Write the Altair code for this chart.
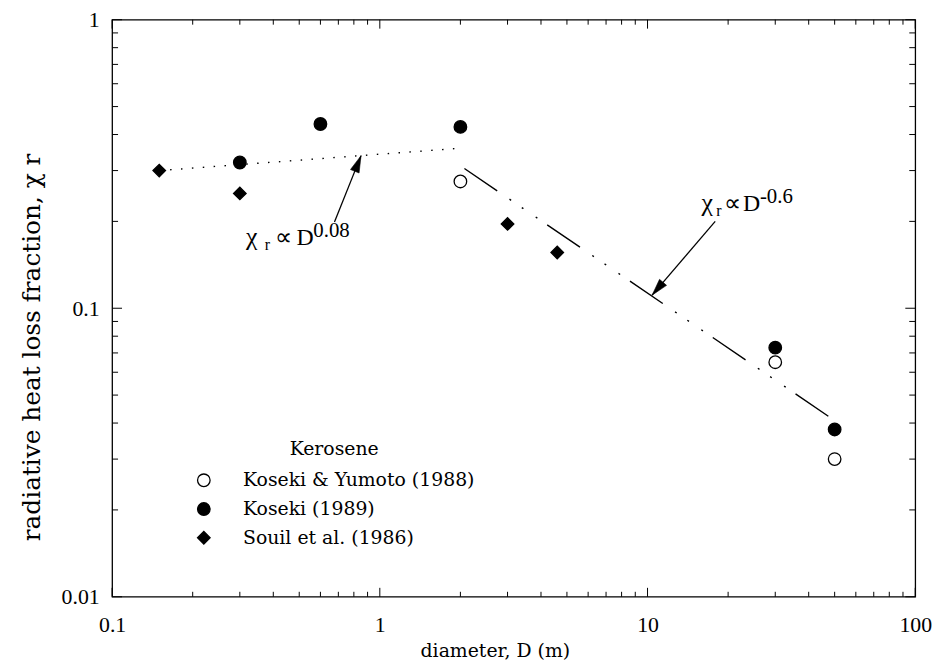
import math
import altair as alt
import pandas as pd

# ---------------- data ----------------
series_names = ["Koseki & Yumoto (1988)", "Koseki (1989)", "Souil et al. (1986)"]

ky_D = [2, 30, 50]
ky_chi = [0.275, 0.065, 0.030]

k89_D = [0.3, 0.6, 2, 30, 50]
k89_chi = [0.32, 0.435, 0.425, 0.073, 0.038]

souil_D = [0.15, 0.3, 3, 4.6]
souil_chi = [0.30, 0.25, 0.196, 0.156]

# correlation lines
fit_small_D = [0.15, 1.95]
fit_small_chi = [0.30, 0.358]
fit_large_D = [2.07, 47.8]
fit_large_chi = [0.305, 0.042]

# annotation arrows (tail -> tip) in data units
arrow_tail_D = [0.677, 17.9]
arrow_tail_chi = [0.199, 0.20]
arrow_tip_D = [0.851, 10.4]
arrow_tip_chi = [0.338, 0.111]

# annotation label anchors (left end of the chi glyph, baseline)
label_D = [0.316, 15.9]
label_chi = [0.166, 0.218]
label_exponent = ["0.08", "-0.6"]

x_ticks = [0.1, 1, 10, 100]
y_ticks = [0.01, 0.1, 1]
x_minor = [m * 10 ** e for e in (-1, 0, 1) for m in range(2, 10)]
y_minor = [m * 10 ** e for e in (-2, -1) for m in range(2, 10)]

# ---------------- layout ----------------
W, H = 810, 582
PX_PER_DEC_X = W / 3.0
PX_PER_DEC_Y = H / 2.0
SERIF = "Liberation Serif"
WIDE_SERIF = "DejaVu Serif"

xscale = alt.Scale(type="log", domain=[0.1, 100], nice=False)
yscale = alt.Scale(type="log", domain=[0.01, 1], nice=False)

xaxis = alt.Axis(values=x_ticks, format="~g", ticks=False, domain=False, grid=False,
                 labelFont=SERIF, labelFontSize=22, labelColor="black", labelPadding=18,
                 labelFlush=False, labelOverlap=False, labelBound=False,
                 title="diameter, D (m)", titleFont=WIDE_SERIF, titleFontSize=19,
                 titleFontWeight="normal", titleColor="black", titleX=386, titleY=45)
yaxis = alt.Axis(values=y_ticks, format="~g", ticks=False, domain=False, grid=False,
                 labelFont=SERIF, labelFontSize=22, labelColor="black", labelPadding=13,
                 labelFlush=False, labelOverlap=False, labelBound=False,
                 title="radiative heat loss fraction, χ r", titleFont=WIDE_SERIF,
                 titleFontSize=25, titleFontWeight="normal", titleColor="black",
                 titleAngle=270, titleX=-73, titleY=330, titleBaseline="alphabetic",
                 titleAlign="center", titleLimit=0)

X = alt.X("D:Q", scale=xscale, axis=xaxis)
Y = alt.Y("chi:Q", scale=yscale, axis=yaxis)

# ---------------- points ----------------
pts = pd.DataFrame({
    "D": ky_D + k89_D + souil_D,
    "chi": ky_chi + k89_chi + souil_chi,
    "source": [series_names[0]] * len(ky_D) + [series_names[1]] * len(k89_D)
              + [series_names[2]] * len(souil_D),
})

legend = alt.Legend(title="Kerosene", orient="none", legendX=83, legendY=424,
                    titleAnchor="middle", titleFont=WIDE_SERIF, titleFontSize=19,
                    titleFontWeight="normal", titleColor="black", titlePadding=12,
                    titleLimit=0, labelLimit=0,
                    labelFont=WIDE_SERIF, labelFontSize=19, labelColor="black",
                    labelOffset=30, rowPadding=9, symbolSize=160,
                    symbolStrokeColor="black", symbolStrokeWidth=1.3)

points = alt.Chart(pts).mark_point(filled=True, strokeWidth=1.3,
                                   size=160, opacity=1).encode(
    x=X, y=Y,
    shape=alt.Shape("source:N", scale=alt.Scale(domain=series_names,
                                                range=["circle", "circle", "diamond"]),
                    legend=legend),
    fill=alt.Fill("source:N", scale=alt.Scale(domain=series_names,
                                              range=["white", "black", "black"]),
                  legend=legend),
    stroke=alt.Stroke("source:N", scale=alt.Scale(domain=series_names,
                                                  range=["black", "black", "black"]),
                      legend=legend),
)

# ---------------- correlation lines ----------------
fit1 = alt.Chart(pd.DataFrame({"D": fit_small_D, "chi": fit_small_chi})).mark_line(
    color="black", strokeWidth=1.4, strokeDash=[1.5, 9.5]).encode(x=X, y=Y)
fit2 = alt.Chart(pd.DataFrame({"D": fit_large_D, "chi": fit_large_chi})).mark_line(
    color="black", strokeWidth=1.4, strokeDash=[40, 15, 2, 13, 2, 15, 2, 12]).encode(x=X, y=Y)

# ---------------- arrows ----------------
HEAD = 17.0
head_D, head_chi, head_angle = [], [], []
for tD, tC, pD, pC in zip(arrow_tail_D, arrow_tail_chi, arrow_tip_D, arrow_tip_chi):
    dx = PX_PER_DEC_X * math.log10(pD / tD)
    dy = PX_PER_DEC_Y * math.log10(pC / tC)
    L = math.hypot(dx, dy)
    f = (HEAD / 2) / L
    head_D.append(pD * (tD / pD) ** f)
    head_chi.append(pC * (tC / pC) ** f)
    head_angle.append(math.degrees(math.atan2(dx, dy)) % 360)

arrow_df = pd.DataFrame({"D": arrow_tail_D, "chi": arrow_tail_chi,
                         "D2": arrow_tip_D, "chi2": arrow_tip_chi})
shafts = alt.Chart(arrow_df).mark_rule(color="black", strokeWidth=1.3).encode(
    x=X, y=Y, x2="D2:Q", y2="chi2:Q")
heads = alt.Chart(pd.DataFrame({"D": head_D, "chi": head_chi, "ang": head_angle})).mark_point(
    shape="M0,-1L0.55,1L-0.55,1Z", filled=True, fill="black", stroke="black",
    strokeWidth=0.5, size=HEAD * HEAD, opacity=1).encode(
    x=X, y=Y, angle=alt.Angle("ang:Q", scale=None))

# ---------------- annotation labels ----------------
def label_layers(i, r_dx, prop_dx, d_dx, exp_dx):
    df = pd.DataFrame({"D": [label_D[i]], "chi": [label_chi[i]]})
    base = alt.Chart(df)
    common = dict(align="left", baseline="alphabetic", color="black", font=SERIF)
    return [
        base.mark_text(text="χ", fontSize=26, **common).encode(x=X, y=Y),
        base.mark_text(text="r", fontSize=16, dx=r_dx, dy=5, **common).encode(x=X, y=Y),
        base.mark_text(text="∝", fontSize=24, dx=prop_dx, **common).encode(x=X, y=Y),
        base.mark_text(text="D", fontSize=24, dx=d_dx, **common).encode(x=X, y=Y),
        base.mark_text(text=label_exponent[i], fontSize=21, dx=exp_dx, dy=-8, **common).encode(x=X, y=Y),
    ]

labels = label_layers(0, 19, 29, 51, 68) + label_layers(1, 15, 23, 42, 59)

# ---------------- tick marks (inward, on all four sides) ----------------
def x_tick_layers(vals, length):
    base = alt.Chart(pd.DataFrame({"D": vals})).mark_rule(color="black", strokeWidth=1)
    return [base.encode(x=X, y=alt.value(H), y2=alt.value(H - length)),
            base.encode(x=X, y=alt.value(0), y2=alt.value(length))]


def y_tick_layers(vals, length):
    base = alt.Chart(pd.DataFrame({"chi": vals})).mark_rule(color="black", strokeWidth=1)
    return [base.encode(y=Y, x=alt.value(0), x2=alt.value(length)),
            base.encode(y=Y, x=alt.value(W), x2=alt.value(W - length))]


ticks = (x_tick_layers(x_ticks, 9) + x_tick_layers(x_minor, 5)
         + y_tick_layers(y_ticks, 10) + y_tick_layers(y_minor, 6))

chart = alt.layer(*ticks, fit1, fit2, shafts, heads, *labels, points).properties(
    width=W, height=H,
    autosize=alt.AutoSizeParams(type="none"),
    padding={"left": 105, "top": 9, "right": 27, "bottom": 65},
    background="white",
).configure_view(stroke="black", strokeWidth=1.3)

chart.save("out.html", embed_options={"renderer": "svg", "actions": False})
